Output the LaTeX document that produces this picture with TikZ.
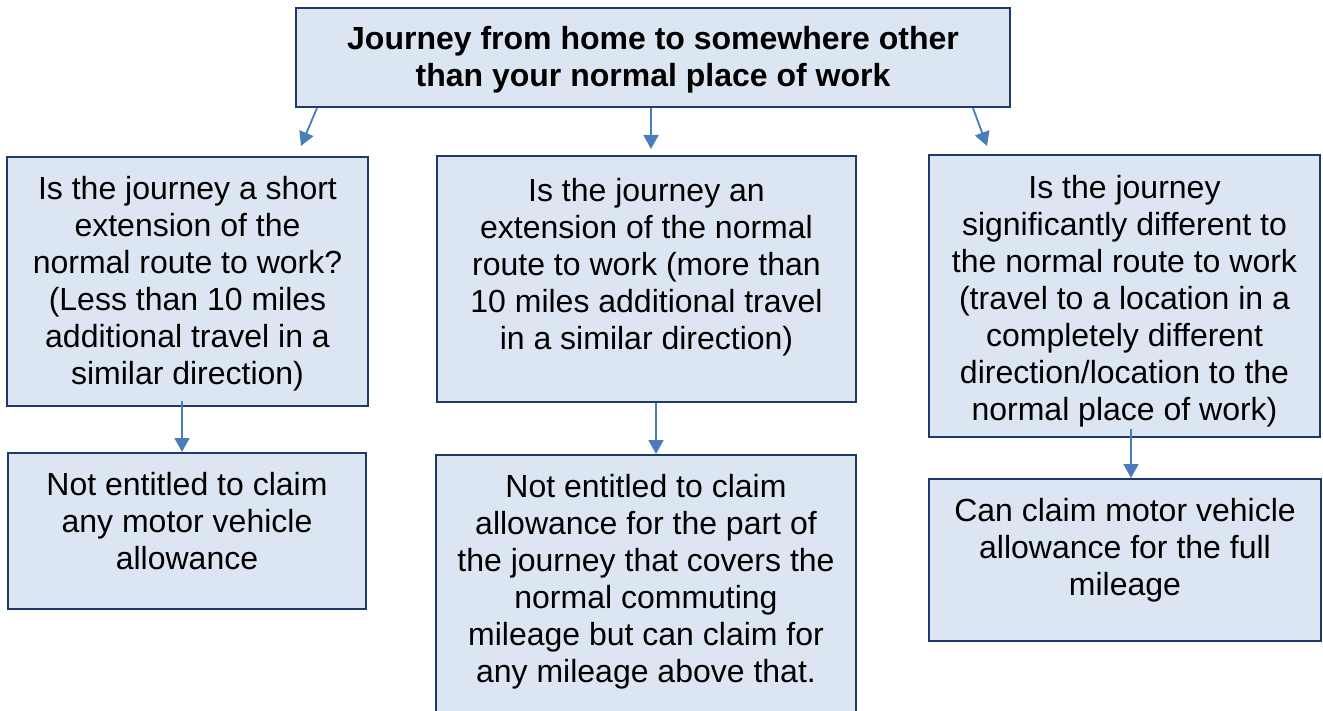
\documentclass[tikz,border=0pt]{standalone}
\usepackage{fontspec}
\setmainfont{Liberation Sans}
\usetikzlibrary{arrows.meta}
\definecolor{boxfill}{HTML}{DCE6F2}
\definecolor{boxline}{HTML}{1F3A6A}
\definecolor{arrowblue}{HTML}{4A7EBB}

\begin{document}
\begin{tikzpicture}[x=1pt,y=-1pt,
	box/.style={shape=rectangle,draw=boxline,fill=boxfill,line width=2pt,inner sep=0pt},
	txt/.style={align=center,inner sep=0pt,anchor=north,font=\fontsize{32}{37}\selectfont},
	arr/.style={draw=arrowblue,line width=1.8pt,-{Triangle[length=14pt,width=15pt]}}]
	\useasboundingbox (0,0) rectangle (1323,711);

	\node[box,minimum width=714,minimum height=99] (top) at (653, 57.5) {};
	\node[box,minimum width=361,minimum height=249] (q1) at (187.5, 281.5) {};
	\node[box,minimum width=419,minimum height=246] (q2) at (646.5, 279) {};
	\node[box,minimum width=391,minimum height=282] (q3) at (1124.5, 296) {};
	\node[box,minimum width=358,minimum height=156] (a1) at (187, 531) {};
	\node[box,minimum width=420,minimum height=290] (a2) at (646, 600) {};
	\node[box,minimum width=392,minimum height=162] (a3) at (1125, 560) {};

	\node[txt,font=\bfseries\fontsize{32}{37}\selectfont] (toptext) at (653, 26) {Journey from home to somewhere other\\than your normal place of work};
	\node[txt] (q1text) at (187.5, 176) {Is the journey a short\\extension of the\\normal route to work?\\(Less than 10 miles\\additional travel in a\\similar direction)};
	\node[txt] (q2text) at (646.5, 178) {Is the journey an\\extension of the normal\\route to work (more than\\10 miles additional travel\\in a similar direction)};
	\node[txt] (q3text) at (1124.5, 175) {Is the journey\\significantly different to\\the normal route to work\\(travel to a location in a\\completely different\\direction/location to the\\normal place of work)};
	\node[txt] (a1text) at (187, 472) {Not entitled to claim\\any motor vehicle\\allowance};
	\node[txt] (a2text) at (646, 474) {Not entitled to claim\\allowance for the part of\\the journey that covers the\\normal commuting\\mileage but can claim for\\any mileage above that.};
	\node[txt] (a3text) at (1125, 498) {Can claim motor vehicle\\allowance for the full\\mileage};

	\draw[arr] ([xshift=22pt]top.south west) -- ([xshift=295pt,yshift=10pt]q1.north west);
	\draw[arr] ([xshift=-2pt]top.south) -- ([xshift=4.5pt,yshift=6pt]q2.north);
	\draw[arr] ([xshift=-38pt]top.south east) -- ([xshift=59pt,yshift=8pt]q3.north west);
	\draw[arr] ([xshift=-5.5pt,yshift=6pt]q1.south) -- ([xshift=-5pt]a1.north);
	\draw[arr] ([xshift=9.5pt]q2.south) -- ([xshift=10pt]a2.north);
	\draw[arr] ([xshift=6.5pt,yshift=9pt]q3.south) -- ([xshift=6pt]a3.north);
\end{tikzpicture}
\end{document}
